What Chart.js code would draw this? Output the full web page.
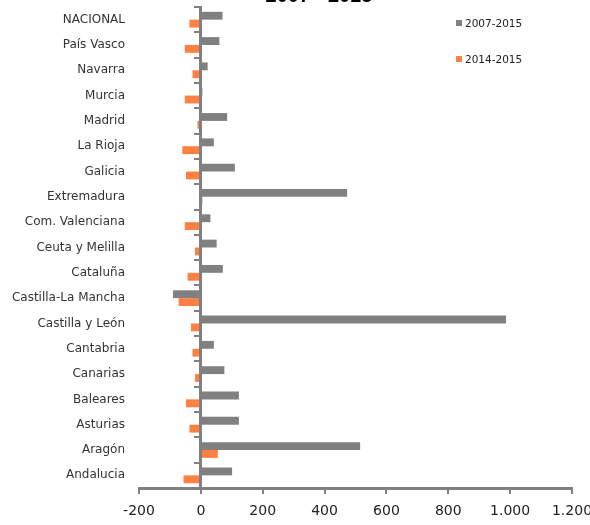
<!DOCTYPE html>
<html>
<head>
	<meta charset="utf-8">
	<title>2007 - 2015</title>
	<script src="https://cdn.jsdelivr.net/npm/chart.js"></script>
	<style>
		body { margin: 0; background: #fff; overflow: hidden; }
		#wrap { position: relative; width: 590px; height: 525px; }
		#title { position: absolute; top: -16px; left: 263px; width: 112px; text-align: center;
			font: bold 20px "Liberation Sans", Arial, sans-serif; color: #000; white-space: nowrap; }
		.leg { position: absolute; left: 456px; font: 10.5px "DejaVu Sans", sans-serif; color: #222; white-space: nowrap; }
		.leg span { display: inline-block; width: 6px; height: 6px; margin-right: 3px; vertical-align: 1px; }
	</style>
</head>
<body>
	<div id="wrap">
		<canvas id="myChart" width="590" height="525"></canvas>
		<div id="title">2007 - 2015</div>
		<div id="legend"></div>
	</div>
<script>
    const categories = ['NACIONAL', 'País Vasco', 'Navarra', 'Murcia', 'Madrid', 'La Rioja', 'Galicia',
        'Extremadura', 'Com. Valenciana', 'Ceuta y Melilla', 'Cataluña', 'Castilla-La Mancha',
        'Castilla y León', 'Cantabria', 'Canarias', 'Baleares', 'Asturias', 'Aragón', 'Andalucia'];
    const seriesNames = ['2007-2015', '2014-2015'];
    const values0715 = [70, 60, 22, 5, 85, 42, 110, 473, 31, 51, 71, -90, 987, 42, 76, 123, 123, 515, 101];
    const values1415 = [-37, -52, -27, -52, -11, -60, -48, 5, -52, -19, -43, -72, -32, -27, -19, -48, -37, 55, -56];
    const xTicks = [-200, 0, 200, 400, 600, 800, 1000, 1200];
    const colors = ['#808080', '#ff8040'];

    // legend sits at the top right, like the original
    const legend = document.getElementById('legend');
    seriesNames.forEach((name, i) => {
        const d = document.createElement('div');
        d.className = 'leg';
        d.style.top = (17 + i * 36) + 'px';
        d.innerHTML = '<span style="background:' + colors[i] + '"></span>' + name;
        legend.appendChild(d);
    });

    const labelFont = { family: 'DejaVu Sans', size: 12 };
    const ctx = document.getElementById('myChart');

    new Chart(ctx, {
      type: 'bar',
      data: {
        labels: categories,
        datasets: [
          { label: seriesNames[0], data: values0715, backgroundColor: colors[0] },
          { label: seriesNames[1], data: values1415, backgroundColor: colors[1] }
        ]
      },
      options: {
        indexAxis: 'y',
        responsive: false,
        animation: false,
        categoryPercentage: 0.62,
        barPercentage: 1,
        layout: { padding: { top: 7, left: 0, right: 0, bottom: 0 } },
        plugins: { legend: { display: false }, tooltip: { enabled: false } },
        scales: {
          x: {
            type: 'linear',
            min: -200,
            max: 1200,
            afterBuildTicks: s => { s.ticks = xTicks.map(v => ({ value: v })); },
            afterFit: s => { s.height = 37; s.paddingLeft = 0; s.paddingRight = 18; },
            ticks: {
              color: '#222',
              font: { family: 'DejaVu Sans', size: 14 },
              padding: 9,
              maxRotation: 0,
              autoSkip: false,
              callback: v => v.toLocaleString('de-DE')
            },
            grid: { drawOnChartArea: false, drawTicks: true, tickLength: 6, color: '#808080', lineWidth: 2 },
            border: { color: '#808080', width: 3, z: 1 }
          },
          y: {
            type: 'category',
            position: 'left',
            offset: true,
            afterFit: s => { s.width = 139; s.paddingTop = 0; s.paddingBottom = 0; },
            ticks: { color: '#333', font: labelFont, padding: 14 },
            grid: { display: false, drawTicks: false, offset: true },
            border: { display: false }
          },
          yZero: {
            type: 'category',
            position: { x: 0 },
            offset: true,
            afterFit: s => { s.paddingTop = 0; s.paddingBottom = 0; },
            ticks: { display: false },
            grid: { drawOnChartArea: false, drawTicks: true, tickLength: 5, offset: true, color: '#808080', lineWidth: 2 },
            border: { color: '#808080', width: 3, z: 1 }
          }
        }
      }
    });
</script>
</body>
</html>
